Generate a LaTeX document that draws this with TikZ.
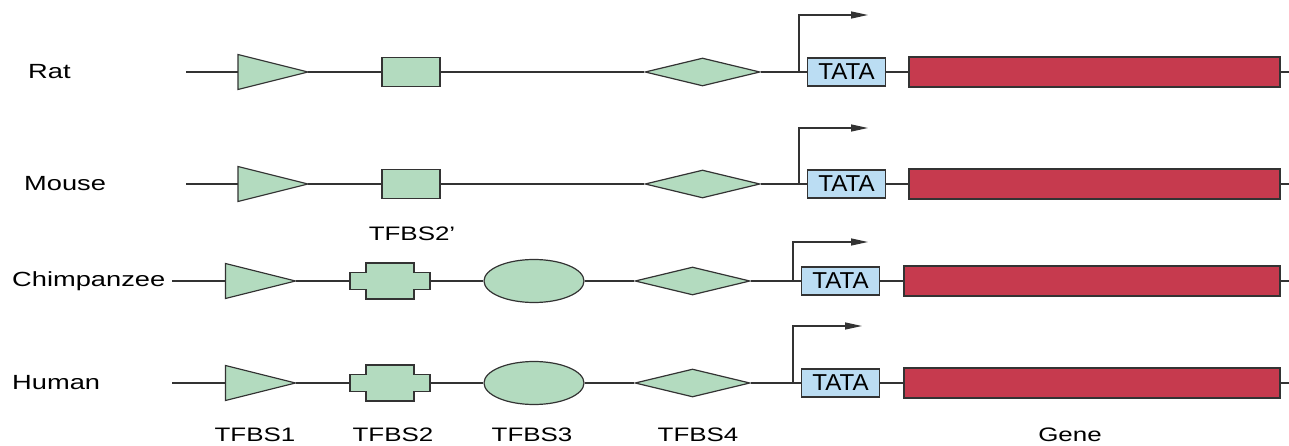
\documentclass[tikz,border=0pt]{standalone}
\usepackage{fontspec}
\setmainfont{Liberation Sans}[FakeStretch=1.33]
\newfontfamily\tatafont{Liberation Sans}[FakeStretch=1.05]
\usetikzlibrary{shapes.geometric,arrows.meta}

\definecolor{sitegreen}{HTML}{B3DBBF}
\definecolor{tatablue}{HTML}{BBDDF3}
\definecolor{genered}{HTML}{C63A4E}
\definecolor{inkgray}{HTML}{333333}

\tikzset{
  site/.style={draw=inkgray, fill=sitegreen, line width=1.2pt},
  box/.style={site, rectangle, inner sep=0pt, minimum width=58, minimum height=29},
  oval/.style={site, ellipse, inner sep=0pt, minimum width=100, minimum height=43},
  kite/.style={site, diamond, inner sep=0pt, minimum width=115, minimum height=28},
  tata/.style={draw=inkgray, fill=tatablue, line width=1.2pt, inner sep=0pt,
    minimum width=78, minimum height=28, font=\tatafont\fontsize{23}{23}\selectfont},
  gene/.style={draw=inkgray, fill=genered, line width=1.2pt, inner sep=0pt, minimum height=30},
  dna/.style={inkgray, line width=1.5pt},
  tss/.style={->, inkgray, line width=1.4pt},
  rowlab/.style={anchor=west, inner sep=0pt, font=\fontsize{20.5}{24}\selectfont},
  sitelab/.style={inner sep=0pt, font=\fontsize{19.5}{22}\selectfont},
  tri/.pic={
    \draw[site] (-35,-17.5) -- (35,0) -- (-35,17.5) -- cycle;
    \coordinate (-base) at (-35,0);
    \coordinate (-tip) at (35,0);
  },
  cross/.pic={
    \draw[site] (-40,-8.5) -- (-24,-8.5) -- (-24,-18) -- (24,-18) -- (24,-8.5)
      -- (40,-8.5) -- (40,8.5) -- (24,8.5) -- (24,18) -- (-24,18) -- (-24,8.5)
      -- (-40,8.5) -- cycle;
    \coordinate (-west) at (-40,0);
    \coordinate (-east) at (40,0);
  }
}

\begin{document}
\begin{tikzpicture}[x=1pt, y=-1pt, >={Triangle[length=17pt,width=7pt]}]
\useasboundingbox (0,0) rectangle (1289,446);

% rodents: square site
\foreach \n/\y/\lab/\lx/\top in {rat/72/Rat/28/15, mouse/184/Mouse/24/128}
{
    \node[rowlab] (\n-lab) at (\lx,\y) {\lab};
    \coordinate (\n-start) at (186,\y);
    \pic (\n-tri) at (273,\y) {tri};
    \node[box] (\n-sq) at (411,\y) {};
    \node[kite] (\n-dia) at (702.5,\y) {};
    \node[tata] (\n-tata) at (846.5,\y) {TATA};
    \node[gene, minimum width=371] (\n-gene) at (1094.5,\y) {};
    \coordinate (\n-end) at (1289,\y);
    \coordinate (\n-tss) at (799,\y);
    \coordinate (\n-arr) at (868,\top);
    \draw[dna] (\n-start) -- (\n-tri-base) (\n-tri-tip) -- (\n-sq)
        (\n-sq) -- (\n-dia) (\n-dia) -- (\n-tata) (\n-tata) -- (\n-gene)
        (\n-gene) -- (\n-end);
    \draw[tss] (\n-tss) |- (\n-arr);
}

% apes: cross and oval sites
\foreach \n/\y/\lab/\top/\tip in {chimp/281/Chimpanzee/242/868, human/383/Human/326/862}
{
    \node[rowlab] (\n-lab) at (12,\y) {\lab};
    \coordinate (\n-start) at (172,\y);
    \pic (\n-tri) at (260.5,\y) {tri};
    \pic (\n-crs) at (390,\y) {cross};
    \node[oval] (\n-ov) at (534,\y) {};
    \node[kite] (\n-dia) at (692.5,\y) {};
    \node[tata] (\n-tata) at (840.5,\y) {TATA};
    \node[gene, minimum width=376] (\n-gene) at (1092,\y) {};
    \coordinate (\n-end) at (1289,\y);
    \coordinate (\n-tss) at (793,\y);
    \coordinate (\n-arr) at (\tip,\top);
    \draw[dna] (\n-start) -- (\n-tri-base) (\n-tri-tip) -- (\n-crs-west)
        (\n-crs-east) -- (\n-ov) (\n-ov) -- (\n-dia) (\n-dia) -- (\n-tata)
        (\n-tata) -- (\n-gene) (\n-gene) -- (\n-end);
    \draw[tss] (\n-tss) |- (\n-arr);
}

\node[sitelab] (tfbs-prime) at (412,234) {TFBS2’};
\foreach \x/\t in {255/TFBS1, 393/TFBS2, 532/TFBS3, 698/TFBS4, 1070/Gene}
{
    \node[sitelab] (lab-\t) at (\x,435) {\t};
}

\end{tikzpicture}
\end{document}
